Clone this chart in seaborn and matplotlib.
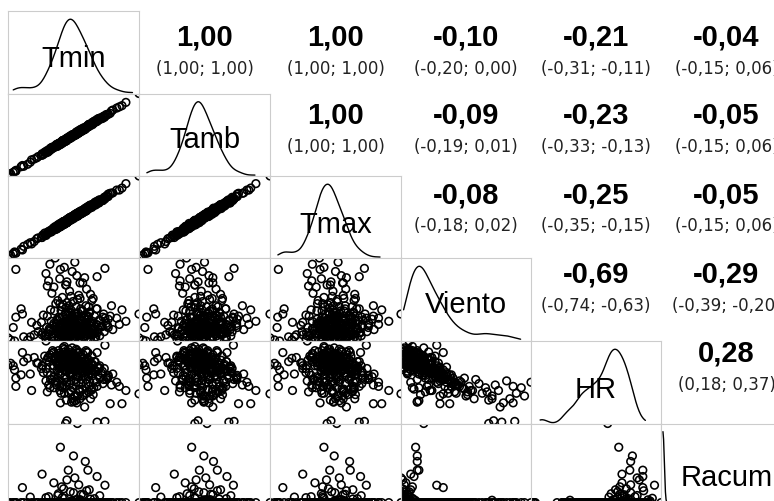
import matplotlib
matplotlib.use("Agg")
import matplotlib.pyplot as plt
import numpy as np
import pandas as pd
import seaborn as sns

# ---------------- data (one entry per day) ----------------
tmin = [
    9.8, 10.4, 8.7, 11.2, 9.1, 12.0, 10.9, 7.8, 10.1, 11.6,
    9.5, 8.2, 12.6, 10.7, 9.3, 11.9, 10.2, 8.9, 13.1, 9.9,
    10.6, 11.4, 7.4, 12.3, 9.6, 10.8, 8.5, 11.0, 13.6, 9.0,
    10.3, 12.8, 9.7, 8.0, 11.3, 10.0, 14.2, 6.9, 10.5, 9.4,
    12.1, 11.7, 8.6, 10.9, 9.2, 13.3, 7.6, 11.5, 10.0, 12.5,
    8.4, 14.8, 9.8, 11.1, 6.3, 13.9, 10.4, 9.0, 12.2, 15.4,
    8.2, 7.4, 9.6, 10.8, 6.8, 11.5, 8.9, 7.2, 12.4, 9.9,
    8.0, 13.0, 10.4, 7.7, 11.8, 9.3, 14.0, 8.6, 10.0, 12.7,
    9.0, 11.2, 7.0, 13.6,
    9.8, 14.6, 15.8, 10.0,
    10.5, 12.2, 8.8, 14.5, 9.4, 11.7, 13.2, 7.5, 10.9, 15.6,
    12.9, 9.9, 11.0, 16.3, 8.3, 13.8, 10.2, 12.0, 6.4, 14.9,
    11.4, 9.1, 13.4, 10.6, 16.8,
    11.0, 11.3, 10.7,
    11.6, 9.0, 11.0, 12.8, 10.2, 13.2, 6.2, 14.6, 15.8, 3.2,
    4.4, 8.0, 9.5, 10.5, 11.8, 12.5, 13.4, 7.2, 10.0, 14.2,
    9.2, 11.2, 12.0, 8.7, 13.0, 10.8, 15.0, 6.8, 12.0,
    1.0, 1.4, 2.0, 2.2, 3.0, 2.2, 1.8, 4.0, 4.6, 3.4, 5.0, 5.4,
    21.0, 18.4, 17.6, 18.0, 16.6, 17.0, 16.2, 19.0,
    6.8,
    5.6, 6.1, 6.6, 7.0, 7.3, 7.7, 7.9, 8.1, 8.3, 8.5,
    8.7, 8.8, 9.0, 9.1, 9.2, 9.4, 9.5, 9.6, 9.7, 9.8,
    9.9, 10.0, 10.1, 10.2, 10.3, 10.4, 10.5, 10.6, 10.7, 10.8,
    10.9, 11.0, 11.1, 11.2, 11.3, 11.4, 11.5, 11.6, 11.7, 11.8,
    11.9, 12.0, 12.1, 12.2, 12.3, 12.4, 12.5, 12.6, 12.7, 12.8,
    12.9, 13.0, 13.1, 13.2, 13.3, 13.4, 13.5, 13.6, 13.8, 13.9,
    14.0, 14.2, 14.3, 14.5, 14.6, 14.8, 15.0, 15.2, 15.5, 15.7,
    16.0, 16.3, 9.3, 10.6, 11.9, 8.4, 12.6, 13.7, 9.9, 11.2,
    7.5, 14.1, 10.3, 12.4, 8.9, 11.6, 13.3, 10.8, 9.6, 11.4,
    12.9, 10.1, 8.6, 11.0, 13.6, 9.3, 12.2, 10.5, 14.4, 7.1,
]
tamb = [
    14.9, 15.3, 13.9, 16.2, 13.9, 17.3, 15.8, 12.9, 15.1, 16.3,
    14.6, 13.1, 17.8, 15.7, 14.1, 17.2, 15.1, 14.0, 18.1, 14.6,
    15.7, 16.3, 12.6, 17.3, 14.4, 16.1, 13.4, 16.1, 18.6, 13.7,
    15.4, 17.7, 14.9, 13.0, 16.1, 15.3, 19.1, 12.0, 15.5, 14.1,
    17.2, 16.6, 13.8, 15.9, 14.0, 18.6, 12.5, 16.6, 15.0, 17.2,
    13.5, 19.7, 15.0, 16.1, 11.1, 19.2, 15.3, 14.1, 17.2, 20.1,
    13.3, 12.3, 14.8, 15.8, 11.6, 16.8, 13.8, 12.3, 17.4, 14.6,
    13.1, 17.9, 15.6, 12.7, 16.6, 14.6, 18.9, 13.7, 15.0, 17.4,
    14.1, 16.1, 12.2, 18.6,
    14.6, 19.9, 20.7, 15.1,
    15.5, 16.9, 13.9, 19.4, 14.6, 16.7, 18.0, 12.8, 15.8, 20.7,
    17.9, 14.6, 16.1, 21.2, 13.5, 18.8, 15.0, 17.3, 11.3, 20.0,
    16.4, 13.8, 18.5, 15.5, 22.0,
    16.0, 16.1, 16.0,
    16.5, 14.1, 16.0, 17.5, 15.3, 18.1, 11.4, 19.6, 20.6, 8.5,
    9.3, 13.1, 14.5, 15.2, 16.9, 17.4, 18.6, 12.2, 14.8, 19.5,
    14.1, 16.3, 17.0, 13.4, 18.1, 15.7, 20.2, 11.8, 16.8,
    5.9, 6.5, 7.0, 7.1, 8.2, 7.3, 6.8, 8.8, 9.9, 8.3, 10.1, 10.4,
    26.3, 23.3, 22.7, 23.0, 21.4, 22.2, 21.1, 24.1,
    11.9,
    10.7, 11.0, 11.8, 12.0, 12.1, 13.0, 12.8, 13.2, 13.3, 13.2,
    13.8, 13.7, 14.2, 14.1, 14.0, 14.7, 14.4, 14.7, 14.7, 14.5,
    15.0, 14.9, 15.3, 15.2, 15.1, 15.7, 15.4, 15.7, 15.7, 15.5,
    16.0, 15.9, 16.3, 16.2, 16.1, 16.7, 16.4, 16.7, 16.7, 16.5,
    17.0, 16.9, 17.3, 17.2, 17.1, 17.7, 17.4, 17.7, 17.7, 17.5,
    18.0, 17.9, 18.3, 18.2, 18.1, 18.7, 18.4, 18.7, 18.8, 18.6,
    19.1, 19.1, 19.5, 19.5, 19.4, 20.1, 19.9, 20.3, 20.5, 20.4,
    21.1, 21.2, 14.5, 15.6, 16.7, 13.7, 17.5, 18.8, 14.9, 15.9,
    12.6, 19.0, 15.5, 17.4, 13.7, 16.9, 18.2, 15.9, 14.6, 16.1,
    18.0, 15.0, 13.8, 16.0, 18.4, 14.6, 17.1, 15.6, 19.4, 11.8,
]
tmax = [
    20.0, 20.2, 19.1, 21.1, 19.2, 21.7, 21.2, 17.8, 19.7, 21.8,
    19.3, 18.6, 22.5, 20.8, 19.0, 22.2, 20.2, 18.5, 23.3, 19.7,
    21.0, 21.3, 17.5, 22.0, 19.9, 20.8, 18.1, 21.2, 23.4, 19.4,
    20.2, 22.9, 19.4, 18.3, 21.3, 19.6, 24.4, 16.7, 20.9, 19.3,
    22.2, 21.4, 18.9, 20.9, 18.8, 23.5, 17.4, 21.9, 19.9, 22.6,
    18.1, 25.1, 19.8, 20.7, 16.5, 23.7, 20.8, 18.9, 22.3, 25.1,
    18.5, 17.4, 19.2, 21.0, 16.6, 21.9, 18.8, 17.3, 22.1, 20.2,
    18.0, 22.6, 20.6, 17.5, 22.2, 19.2, 24.1, 18.3, 20.3, 22.7,
    18.6, 21.4, 16.8, 24.0,
    19.7, 24.7, 25.5, 20.3,
    20.5, 21.8, 19.0, 24.3, 19.8, 21.6, 23.3, 17.2, 21.2, 25.6,
    22.5, 20.1, 20.8, 26.7, 18.2, 23.9, 19.9, 22.3, 16.4, 24.5,
    21.6, 18.9, 23.8, 20.5, 26.9,
    20.7, 21.6, 20.7,
    21.2, 19.2, 20.8, 23.2, 20.1, 23.3, 15.9, 24.9, 25.8, 12.8,
    14.6, 17.8, 19.9, 20.4, 21.9, 22.2, 23.7, 17.2, 19.6, 24.4,
    19.0, 21.6, 21.9, 18.8, 22.7, 21.1, 25.0, 16.4, 22.2,
    10.8, 11.5, 12.3, 12.0, 13.0, 12.1, 11.9, 14.2, 14.3, 13.7, 14.9, 15.6,
    31.2, 28.2, 27.7, 27.7, 26.9, 27.0, 26.1, 29.3,
    16.6,
    15.8, 15.9, 17.0, 16.9, 17.4, 17.4, 18.2, 18.1, 17.9, 18.7,
    18.9, 18.6, 19.4, 19.0, 19.3, 19.1, 19.8, 19.6, 19.3, 20.0,
    20.1, 19.8, 20.5, 20.1, 20.4, 20.1, 20.8, 20.6, 20.3, 21.0,
    21.1, 20.8, 21.5, 21.1, 21.4, 21.1, 21.8, 21.6, 21.3, 22.0,
    22.1, 21.8, 22.5, 22.1, 22.4, 22.1, 22.8, 22.6, 22.3, 23.0,
    23.1, 22.8, 23.5, 23.1, 23.4, 23.1, 23.8, 23.6, 23.4, 24.1,
    24.2, 24.0, 24.7, 24.4, 24.7, 24.5, 25.3, 25.2, 25.1, 25.9,
    26.2, 26.1, 19.7, 20.5, 22.0, 18.1, 22.9, 23.7, 19.5, 21.4,
    17.7, 23.9, 20.7, 22.3, 19.0, 21.3, 23.6, 20.8, 19.2, 21.6,
    23.1, 19.9, 19.0, 20.9, 23.7, 19.0, 22.5, 20.5, 24.0, 17.3,
]
viento = [
    1.6, 1.9, 1.3, 2.2, 1.7, 1.5, 2.5, 1.2, 1.8, 2.0,
    2.3, 1.9, 1.4, 1.1, 2.8, 2.6, 1.4, 2.1, 1.8, 2.4,
    1.6, 1.3, 1.6, 2.1, 1.0, 2.9, 2.6, 1.7, 2.2, 1.5,
    2.0, 1.6, 3.1, 2.2, 1.9, 1.2, 1.7, 1.8, 2.7, 1.9,
    2.4, 1.1, 1.4, 2.3, 2.0, 2.8, 2.4, 1.5, 2.2, 1.9,
    1.7, 2.0, 2.6, 1.2, 1.3, 1.5, 3.3, 1.1, 2.9, 1.9,
    8.5, 7.9, 7.6, 7.2, 7.0, 6.8, 6.5, 6.3, 6.1, 5.9,
    5.7, 5.5, 5.3, 5.1, 4.9, 4.7, 4.6, 4.4, 4.2, 6.6,
    7.4, 8.1, 5.8, 5.0,
    5.9, 6.7, 7.5, 6.2,
    3.0, 3.4, 2.8, 3.6, 4.0, 3.2, 2.9, 3.5, 4.3, 3.1,
    3.9, 3.7, 2.7, 2.6, 4.1, 4.4, 3.3, 4.6, 3.0, 2.5,
    3.8, 3.4, 3.2, 4.8, 3.9,
    1.5, 1.6, 1.5,
    1.9, 1.4, 1.5, 1.5, 1.6, 1.5, 1.1, 1.3, 2.7, 3.1,
    0.9, 0.8, 0.6, 1.0, 0.7, 0.9, 1.1, 0.5, 0.6, 0.8,
    1.2, 0.5, 1.3, 0.9, 0.7, 1.4, 1.0, 0.7, 6.1,
    0.8, 0.6, 0.5, 2.8, 3.6, 7.4, 1.8, 0.6, 2.3, 0.9, 1.1, 2.0,
    3.1, 3.5, 2.7, 2.1, 2.9, 1.6, 2.0, 2.4,
    1.0,
    1.4, 2.3, 1.0, 2.9, 1.7, 0.8, 2.0, 3.4, 1.2, 2.5,
    0.7, 1.8, 2.7, 1.3, 3.8, 2.1, 1.5, 0.9, 2.4, 1.9,
    3.1, 1.4, 2.2, 0.6, 1.7, 2.6, 1.1, 3.5, 2.0, 1.5,
    2.8, 0.8, 1.8, 2.4, 1.2, 3.2, 2.1, 1.6, 2.9, 1.0,
    2.2, 1.7, 3.6, 1.3, 2.5, 1.9, 0.9, 2.7, 1.5, 2.0,
    3.0, 1.2, 2.3, 1.8, 2.6, 1.4, 3.3, 2.0, 1.1, 2.4,
    1.7, 2.9, 1.3, 2.1, 3.6, 1.6, 2.5, 1.9, 2.8, 1.4,
    2.2, 1.8, 1.6, 2.0, 1.3, 2.2, 1.7, 2.3, 1.1, 2.9,
    1.5, 1.2, 3.9, 3.4, 4.1, 4.5, 3.8, 0.7, 1.2, 0.9,
    1.0, 1.6, 0.6, 0.5, 0.7, 0.8, 0.6, 1.3, 0.9, 1.2,
]
hr = [
    88, 85, 91, 83, 90, 84, 80, 93, 87, 82,
    86, 89, 81, 89, 84, 79, 92, 87, 80, 83,
    86, 88, 90, 78, 94, 81, 85, 90, 77, 88,
    84, 82, 79, 92, 86, 90, 79, 86, 82, 95,
    84, 91, 83, 88, 81, 76, 88, 93, 78, 87,
    84, 75, 89, 85, 82, 83, 77, 87, 80, 78,
    70, 66, 62, 58, 71, 55, 64, 68, 60, 57,
    66, 62, 69, 72, 64, 67, 61, 73, 70, 52,
    55, 60, 63, 58,
    40.0, 41.0, 41.5, 42.0,
    76, 72, 80, 70, 68, 74, 78, 75, 66, 72,
    69, 73, 79, 74, 71, 65, 81, 63, 77, 80,
    70, 62, 67, 64, 68,
    56, 56.5, 55.5,
    75.4, 80.5, 86.8, 86.0, 85.6, 91.6, 82.0, 91.6, 97.0, 91.6,
    76, 82, 84, 80, 86, 83, 79, 88, 90, 85,
    81, 89, 78, 77, 92, 84, 82, 80, 58,
    82.6, 83.8, 79, 73, 75.4, 67, 82, 87.4, 64, 85, 88, 84,
    61.6, 54.4, 70, 67, 54.4, 76, 73, 64,
    100,
    84, 80, 89, 77, 85, 91, 82, 74, 87, 79,
    93, 84, 76, 90, 70, 81, 86, 92, 78, 83,
    73, 88, 80, 94, 85, 76, 90, 71, 82, 87,
    75, 91, 84, 79, 89, 72, 81, 86, 74, 92,
    80, 83, 69, 88, 77, 82, 90, 75, 85, 79,
    72, 87, 78, 83, 74, 86, 70, 80, 89, 76,
    82, 71, 85, 78, 67, 81, 73, 77, 69, 80,
    72, 75, 66, 63, 65, 68, 61, 64, 70, 60,
    72, 66, 62, 65, 67, 60, 63, 95, 96, 94,
    93, 91, 89, 86, 84, 83, 81, 79, 78, 88,
]
racum = [
    0, 0, 0, 0, 0, 0, 0, 0, 0, 0,
    0, 0, 0, 0, 0, 0, 0, 0, 0, 0,
    0, 0, 0, 0, 0, 0, 0, 0, 0, 0,
    0, 0, 0, 0, 0, 0, 0, 0, 0, 0,
    0, 0, 0, 0, 0, 0, 0, 0, 0, 0,
    0, 0, 0, 0, 0, 0, 0, 0, 0, 0,
    0, 0, 0, 0, 0, 0, 0, 0, 0, 0,
    0, 0, 0, 0, 0, 0, 0, 0, 0, 0,
    0, 0, 0, 0,
    0, 0, 0, 0,
    0, 0, 0, 0, 0, 0, 0, 0, 0, 0,
    0, 0, 0, 0, 0, 0, 0, 0, 0, 0,
    0, 0, 0, 0, 0,
    0, 0, 0,
    40.0, 28.0, 23.6, 20.8, 16.4, 16.4, 14.4, 13.2, 8.8, 7.6,
    2.8, 10.0, 7.0, 5.5, 9.0, 4.0, 6.5, 3.0, 11.5, 2.0,
    8.0, 12.5, 1.5, 4.5, 6.0, 1.0, 3.5, 2.5, 1.2,
    0, 0, 0, 0, 0, 0, 0, 0, 0, 0, 0, 0,
    0, 0, 0, 0, 0, 0, 0, 0,
    0,
    0, 0, 0, 0, 0, 0, 0, 0, 0, 0,
    0, 0, 0, 0, 0, 0, 0, 0, 0, 0,
    0, 0, 0, 0, 0, 0, 0, 0, 0, 0,
    0, 0, 0, 0, 0, 0, 0, 0, 0, 0,
    0, 0, 0, 0, 0, 0, 0, 0, 0, 0,
    0, 0, 0, 0, 0, 0, 0, 0, 0, 0,
    0, 0, 0, 0, 0, 0, 0, 0, 0, 0,
    0, 0, 0, 0, 0, 0, 0, 0, 0, 0,
    0, 0, 0, 0, 0, 0, 0, 0.8, 2.2, 1.4,
    0, 0, 3.6, 5.0, 1.8, 2.6, 4.2, 0, 0, 0,
]

variables = ["Tmin", "Tamb", "Tmax", "Viento", "HR", "Racum"]

# correlation (upper triangle, row by row) and 95% intervals
corr_r = ["1,00", "1,00", "-0,10", "-0,21", "-0,04",
          "1,00", "-0,09", "-0,23", "-0,05",
          "-0,08", "-0,25", "-0,05",
          "-0,69", "-0,29",
          "0,28"]
corr_ci = ["(1,00; 1,00)", "(1,00; 1,00)", "(-0,20; 0,00)", "(-0,31; -0,11)", "(-0,15; 0,06)",
           "(1,00; 1,00)", "(-0,19; 0,01)", "(-0,33; -0,13)", "(-0,15; 0,06)",
           "(-0,18; 0,02)", "(-0,35; -0,15)", "(-0,15; 0,06)",
           "(-0,74; -0,63)", "(-0,39; -0,20)",
           "(0,18; 0,37)"]

df = pd.DataFrame({"Tmin": tmin, "Tamb": tamb, "Tmax": tmax,
                   "Viento": viento, "HR": hr, "Racum": racum})

# ---------------- styling / layout ----------------
sns.set_style("white")
plt.rcParams["font.family"] = ["Liberation Sans", "DejaVu Sans"]

W, H = 774, 502
fig = plt.figure(figsize=(W / 100, H / 100), dpi=100)
fig.patch.set_facecolor("white")

col_edges = [8, 139, 270, 401, 531, 661, 792]
row_edges = [12, 94.5, 177, 259, 342, 424.5, 506]
diag_pad = {"Tmin": (0.04, 0.05), "Tamb": (0.06, 0.115), "Tmax": (0.06, 0.16),
            "Viento": (0.02, 0.08), "HR": (0.07, 0.12), "Racum": (0.015, 0.05)}
diag_bw = {"Tmin": 0.95, "Tamb": 0.95, "Tmax": 0.95, "Viento": 0.85, "HR": 0.8, "Racum": 0.3}
label_base = [67, 148, 233, 313, 398, 486]
txt_row_y = [37.5, 116, 195, 275, 354]
border = "#cccccc"


def add_cell(i, j):
    x0, x1 = col_edges[j], col_edges[j + 1]
    y0, y1 = row_edges[i], row_edges[i + 1]
    return fig.add_axes([x0 / W, 1 - y1 / H, (x1 - x0) / W, (y1 - y0) / H])


for i, yv in enumerate(variables):
    for j, xv in enumerate(variables):
        if j > i:
            continue
        ax = add_cell(i, j)
        ax.set_facecolor("white")
        if i == j:
            sns.kdeplot(data=df, x=xv, ax=ax, color="black", linewidth=1.0,
                        cut=0, bw_adjust=diag_bw[xv])
            ymax = ax.lines[0].get_ydata().max()
            ax.set_ylim(0, ymax / 0.9)
            lo, hi = df[xv].min(), df[xv].max()
            pl, pr = diag_pad[xv]
            full = (hi - lo) / (1 - pl - pr)
            ax.set_xlim(lo - pl * full, hi + pr * full)
        else:
            sns.scatterplot(data=df, x=xv, y=yv, ax=ax, marker="o", s=30,
                            facecolor="none", edgecolor="black", linewidth=1.15)
            ax.set_xlim(df[xv].min(), df[xv].max())
            ylo, yhi = df[yv].min(), df[yv].max()
            if yv == "Racum":
                ylo = ylo - 0.03 * (yhi - ylo)
            ax.set_ylim(ylo, yhi)
        ax.set_xticks([])
        ax.set_yticks([])
        ax.set_xlabel("")
        ax.set_ylabel("")
        for sp in ax.spines.values():
            sp.set_color(border)
            sp.set_linewidth(0.8)

# diagonal labels
for k, name in enumerate(variables):
    cx = (col_edges[k] + col_edges[k + 1]) / 2
    fig.text(cx / W, 1 - label_base[k] / H, name, ha="center", va="baseline",
             fontsize=21, color="black")

# upper triangle text
n = 0
for i in range(len(variables)):
    for j in range(i + 1, len(variables)):
        cx = (col_edges[j] + col_edges[j + 1]) / 2
        yb = txt_row_y[i]
        fig.text(cx / W, 1 - yb / H, corr_r[n], ha="center", va="center",
                 fontsize=21, fontweight="bold", color="black")
        fig.text(cx / W, 1 - (yb + 31) / H, corr_ci[n], ha="center", va="center",
                 fontsize=12, color="#222222", family=["DejaVu Sans"])
        n += 1

fig.savefig("out.png", dpi=100)
